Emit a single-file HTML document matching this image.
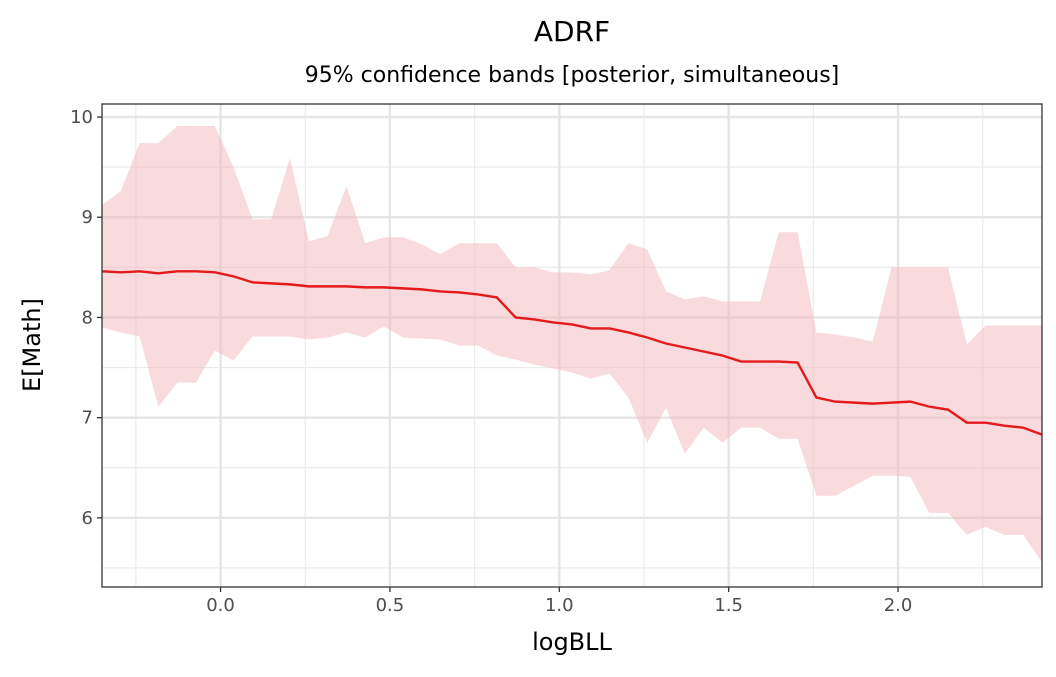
<!DOCTYPE html>
<html><head><meta charset="utf-8"><style>
body{margin:0;background:#fff;font-family:"Liberation Sans","DejaVu Sans",sans-serif}
svg text{font-family:"DejaVu Sans","Liberation Sans",sans-serif}
</style></head><body>
<svg id="chart" width="1056" height="672" xmlns="http://www.w3.org/2000/svg">
<text x="572" y="41" text-anchor="middle" font-size="28" fill="#000">ADRF</text>
<text x="572" y="82" text-anchor="middle" font-size="22" fill="#000">95% confidence bands [posterior, simultaneous]</text>
<g id="grid"></g>
<g id="marks"></g>
<rect x="102" y="104" width="940" height="483" fill="none" stroke="#333" stroke-width="1.3"/>
<g id="axes"></g>
<text x="572" y="650" text-anchor="middle" font-size="24" fill="#000">logBLL</text>
<text transform="translate(40,345) rotate(-90)" text-anchor="middle" font-size="24" fill="#000">E[Math]</text>
</svg>
<script>
const upper=[9.12,9.26,9.74,9.74,9.91,9.91,9.91,9.5,8.98,8.98,9.59,8.76,8.81,9.31,8.74,8.8,8.8,8.73,8.63,8.74,8.74,8.74,8.5,8.5,8.45,8.45,8.43,8.47,8.74,8.68,8.26,8.18,8.21,8.16,8.16,8.16,8.85,8.85,7.85,7.83,7.8,7.76,8.5,8.5,8.5,8.5,7.73,7.92,7.92,7.92,7.92];
const meanVals=[8.46,8.45,8.46,8.44,8.46,8.46,8.45,8.41,8.35,8.34,8.33,8.31,8.31,8.31,8.3,8.3,8.29,8.28,8.26,8.25,8.23,8.2,8.0,7.98,7.95,7.93,7.89,7.89,7.85,7.8,7.74,7.7,7.66,7.62,7.56,7.56,7.56,7.55,7.2,7.16,7.15,7.14,7.15,7.16,7.11,7.08,6.95,6.95,6.92,6.9,6.83];
const lower=[7.9,7.85,7.81,7.11,7.35,7.35,7.67,7.57,7.81,7.81,7.81,7.78,7.8,7.85,7.8,7.91,7.8,7.79,7.78,7.72,7.72,7.62,7.58,7.53,7.49,7.45,7.39,7.44,7.2,6.75,7.1,6.64,6.9,6.75,6.9,6.9,6.79,6.79,6.22,6.22,6.32,6.42,6.42,6.41,6.05,6.05,5.83,5.91,5.83,5.83,5.56];
const xStart=-0.35, xStep=0.0555;
const xTicks=[0,0.5,1,1.5,2];
const xTickLabels=["0.0","0.5","1.0","1.5","2.0"];
const yTicks=[6,7,8,9,10];
const yTickLabels=["6","7","8","9","10"];

const X0=102,X1=1042,Y0=104,Y1=587;
const xmin=-0.35,xmax=2.425,ymin=5.31,ymax=10.13;
const sx=v=>X0+(v-xmin)/(xmax-xmin)*(X1-X0);
const sy=v=>Y1-(v-ymin)/(ymax-ymin)*(Y1-Y0);
const NS="http://www.w3.org/2000/svg";
const mk=(t,a,p)=>{const e=document.createElementNS(NS,t);for(const k in a)e.setAttribute(k,a[k]);p.appendChild(e);return e;};
const grid=document.getElementById('grid'),marks=document.getElementById('marks'),axes=document.getElementById('axes');
mk('rect',{x:X0,y:Y0,width:X1-X0,height:Y1-Y0,fill:'#fff'},grid);
// minor grid
for(let i=0;i<xTicks.length+1;i++){const v=xTicks[0]-0.25+i*0.5;if(v>xmin&&v<xmax){const l=mk('line',{x1:sx(v),x2:sx(v),y1:Y0,y2:Y1,stroke:'#ebebeb','stroke-width':1.2},grid);

}}
for(let i=0;i<yTicks.length+1;i++){const v=yTicks[0]-0.5+i;if(v>ymin&&v<ymax){const l=mk('line',{x1:X0,x2:X1,y1:sy(v),y2:sy(v),stroke:'#ebebeb','stroke-width':1.2},grid);

}}
xTicks.forEach((v,i)=>{const l=mk('line',{x1:sx(v),x2:sx(v),y1:Y0,y2:Y1,stroke:'#e5e5e5','stroke-width':2.4},grid);


mk('line',{x1:sx(v),x2:sx(v),y1:Y1,y2:Y1+5,stroke:'#333','stroke-width':1.3},axes);
const t=mk('text',{x:sx(v),y:Y1+24,'text-anchor':'middle','font-size':18,fill:'#4d4d4d'},axes);t.textContent=xTickLabels[i];

});
yTicks.forEach((v,i)=>{const l=mk('line',{x1:X0,x2:X1,y1:sy(v),y2:sy(v),stroke:'#e5e5e5','stroke-width':2.4},grid);


mk('line',{x1:X0-5,x2:X0,y1:sy(v),y2:sy(v),stroke:'#333','stroke-width':1.3},axes);
const t=mk('text',{x:X0-9,y:sy(v)+6,'text-anchor':'end','font-size':18,fill:'#4d4d4d'},axes);t.textContent=yTickLabels[i];

});
const xs=meanVals.map((_,i)=>xStart+i*xStep);
let d=upper.map((v,i)=>(i?'L':'M')+sx(xs[i])+','+sy(v)).join('');
for(let i=lower.length-1;i>=0;i--)d+='L'+sx(xs[i])+','+sy(lower[i]);
const band=mk('path',{d:d+'Z',fill:'#f4b6bb','fill-opacity':0.5},marks);


const line=mk('path',{d:meanVals.map((v,i)=>(i?'L':'M')+sx(xs[i])+','+sy(v)).join(''),fill:'none',stroke:'#e41a1c','stroke-width':2.4},marks);


</script>
</body></html>
